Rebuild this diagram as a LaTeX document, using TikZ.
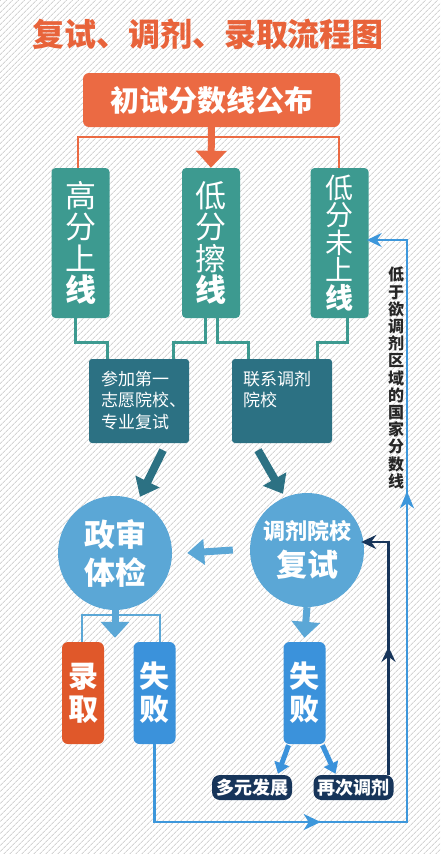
\documentclass[tikz,border=0pt]{standalone}
\usepackage{fontspec}
\setmainfont{Noto Sans CJK SC}
\usetikzlibrary{arrows.meta,patterns.meta,decorations.markings}
\definecolor{ttl}{HTML}{E8633A}
\definecolor{topc}{HTML}{EB6A43}
\definecolor{tealc}{HTML}{3D9A90}
\definecolor{dteal}{HTML}{2C7183}
\definecolor{lblue}{HTML}{5BA7D6}
\definecolor{redc}{HTML}{E0582A}
\definecolor{failc}{HTML}{3B92DB}
\definecolor{navy}{HTML}{17355A}
\definecolor{loopc}{HTML}{3D97DB}
\tikzset{
  tbox/.style={fill=tealc, rounded corners=4pt, minimum width=58pt, minimum height=150pt, text=white, align=center, inner sep=0pt},
  lbox/.style={fill=dteal, rounded corners=3pt, minimum width=100pt, minimum height=84pt, inner sep=0pt},
  ltext/.style={text=white, align=left, anchor=north west, inner sep=0pt, font=\fontsize{17}{21.5}\selectfont},
  circ/.style={circle, fill=lblue, minimum size=114pt, inner sep=0pt, text=white, align=center},
  sbox/.style={rounded corners=6pt, minimum width=42pt, minimum height=102pt, inner sep=0pt, text=white, align=center, font=\fontsize{30}{33}\selectfont\bfseries},
  nbox/.style={fill=navy, rounded corners=8pt, minimum width=80pt, minimum height=25pt, inner sep=0pt, text=white, font=\fontsize{18}{18}\selectfont\bfseries},
  tline/.style={draw=tealc, line width=3pt},
  fat/.style={line width=7pt, -{Triangle[width=25pt,length=16pt]}},
  thin/.style={line width=2.3pt, -{Stealth[width=14pt,length=15pt,inset=5pt]}},
}
\begin{document}
\begin{tikzpicture}[x=1pt,y=-1pt]
\fill[white] (0,0) rectangle (440,854);
\fill[pattern={Lines[angle=45,distance=4pt,line width=0.9pt]}, pattern color=black!17] (0,0) rectangle (440,854);
\useasboundingbox (0,0) rectangle (440,854);

% title
\node[text=ttl, font=\fontsize{32}{32}\selectfont\bfseries, inner sep=0pt] (title) at (208,34) {复试、调剂、录取流程图};

% top box
\node[fill=topc, rounded corners=6pt, minimum width=257pt, minimum height=54pt, text=white, font=\fontsize{29}{29}\selectfont\bfseries, inner sep=0pt] (top) at (211.5,100) {初试分数线公布};

% teal boxes
\node[tbox, font=\fontsize{31}{31.5}\selectfont] (t1) at (80.5,243) {高\\分\\上\\{\bfseries 线}};
\node[tbox, font=\fontsize{31}{31.5}\selectfont] (t2) at (211,243) {低\\分\\擦\\{\bfseries 线}};
\node[tbox, font=\fontsize{28}{27.5}\selectfont] (t3) at (339.5,243) {低\\分\\未\\上\\{\bfseries 线}};

% orange bracket and arrow
\draw[draw=topc, line width=2.5pt] ([xshift=-2.5]t1.north) -- ++(0,-31) -| ([xshift=-0.5]t3.north);
\draw[draw=topc, fat, -{Triangle[width=30pt,length=17pt]}] (top.south) -- (t2.north);

% lower boxes
\node[lbox] (l1) at (139,401) {};
\node[lbox] (l2) at (282,401) {};
\node[ltext] (l1t) at ([xshift=12,yshift=-12]l1.north west) {参加第一\\志愿院校、\\专业复试};
\node[ltext] (l2t) at ([xshift=11,yshift=-12]l2.north west) {联系调剂\\院校};

% teal connectors
\draw[tline] ([xshift=-5.5]t1.south) -- ++(0,24.5) -| ([xshift=-32]l1.north);
\draw[tline] ([xshift=-6]t2.south) -- ++(0,24.5) -| ([xshift=34]l1.north);
\draw[tline] ([xshift=6]t2.south) -- ++(0,24.5) -| ([xshift=-34]l2.north);
\draw[tline] ([xshift=7.5]t3.south) -- ++(0,24.5) -| ([xshift=35]l2.north);

% circles
\node[circ, font=\fontsize{31}{38}\selectfont\bfseries] (c1) at (115,553) {政审\\体检};
\node[circ] (c2) at (307,550) {\fontsize{22}{36}\selectfont\bfseries 调剂院校\\[7pt]\fontsize{31}{36}\selectfont\bfseries 复试};

% dark teal diagonal arrows
\draw[draw=dteal, line width=8pt, -{Triangle[width=26pt,length=17pt]}] ([xshift=24,yshift=-7]l1.south) -- ([xshift=25,yshift=-1]c1.north);
\draw[draw=dteal, line width=8pt, -{Triangle[width=26pt,length=17pt]}] ([xshift=-24,yshift=-7]l2.south) -- ([xshift=-24,yshift=-1]c2.north);

% arrow between circles
\draw[draw=lblue, line width=7pt, -{Triangle[width=25pt,length=17pt]}] ([xshift=-17]c2.west) -- ([xshift=15]c1.east);

% result boxes
\node[sbox, fill=redc] (lq) at (83,693) {录\\取};
\node[sbox, fill=failc] (f1) at (154.5,693) {失\\败};
\node[sbox, fill=failc] (f2) at (304.5,693) {失\\败};

% circle1 bracket and arrow
\draw[draw=lblue, line width=2.5pt] ([xshift=-1]lq.north) -- ++(0,-27) -| ([xshift=5.5]f1.north);
\draw[draw=lblue, fat, -{Triangle[width=28pt,length=16pt]}] (c1.south) -- ([yshift=4]lq.north -| c1.south);
\draw[draw=lblue, fat, -{Triangle[width=28pt,length=16pt]}] (c2.south) -- ([yshift=4]f2.north);

% bottom navy boxes
\node[nbox] (dy) at (252,787.5) {多元发展};
\node[nbox] (zc) at (353.5,787.5) {再次调剂};

\draw[draw=failc, line width=5pt, -{Triangle[width=15pt,length=11pt]}] ([xshift=-16,yshift=-1]f2.south) -- ([xshift=26,yshift=1]dy.north);
\draw[draw=failc, line width=5pt, -{Triangle[width=15pt,length=11pt]}] ([xshift=18,yshift=-1]f2.south) -- ([xshift=-18,yshift=1]zc.north);

% navy loop back to re-test
\coordinate (nt) at (388.5,542);
\draw[draw=navy, thin, shorten >=-3pt,
  postaction={decorate, decoration={markings, mark=at position 128pt with {\arrow{Stealth[width=14pt,length=15pt,inset=5pt]}}}}]
  ([xshift=35]zc.north) -- (nt) -- (nt -| c2.east);

% big blue loop
\coordinate (lb) at (407,822);
\coordinate (lt) at (407,240);
\draw[draw=loopc, thin, shorten >=-2pt,
  postaction={decorate, decoration={markings,
    mark=at position 244pt with {\arrow{Stealth[width=16pt,length=17pt,inset=5pt]}},
    mark=at position 661pt with {\arrow{Stealth[width=14pt,length=17pt,inset=5pt]}}}}]
  (f1.south) |- (lb) -- (lt) -- (lt -| t3.east);

% vertical text
\node[text=black!85, font=\fontsize{16}{17.2}\selectfont\bfseries, align=center, inner sep=0pt] (vt) at (396,378) {低\\于\\欲\\调\\剂\\区\\域\\的\\国\\家\\分\\数\\线};
\end{tikzpicture}
\end{document}
